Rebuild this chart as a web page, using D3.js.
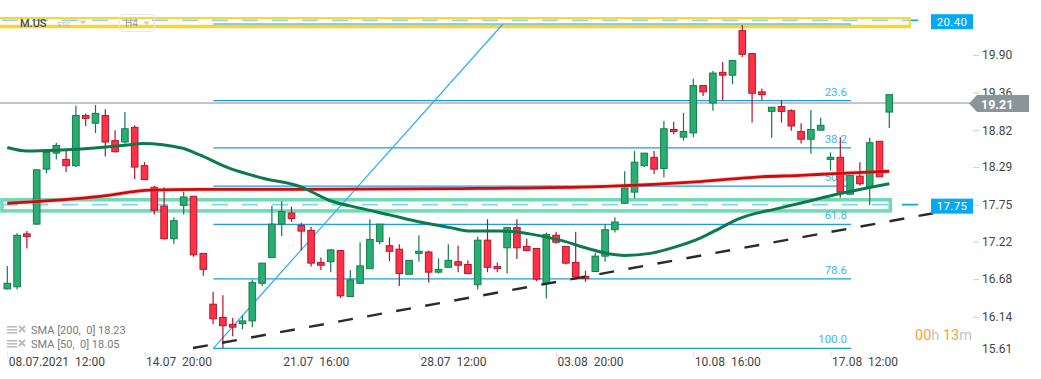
<!DOCTYPE html>
<html><head><meta charset="utf-8">
<script src="https://cdn.jsdelivr.net/npm/d3@7"></script>
<style>
body{margin:0;background:#fff;overflow:hidden}
svg{display:block;font-family:Roboto,'Noto Sans',sans-serif}
</style>
</head><body><svg id="c" width="1041" height="379"></svg>
<script>
// ---------- data ----------
const xTickIdx = [0, 14, 28, 42, 56, 70, 84];
const xTickLabels = ["08.07.2021  12:00", "14.07  20:00", "21.07  16:00", "28.07  12:00", "03.08  20:00", "10.08  16:00", "17.08  12:00"];
const yTicks = [19.90, 19.36, 18.82, 18.29, 17.75, 17.22, 16.68, 16.14, 15.61];

const open  = [16.54,16.57,17.33,17.47,18.26,18.49,18.40,18.31,19.03,18.92,19.03,18.67,18.65,18.86,18.31,18.00,17.73,17.26,17.74,17.87,17.05,16.32,16.13,16.03,16.04,16.08,16.62,16.99,17.47,17.63,17.45,17.38,16.92,16.93,17.09,16.43,16.62,16.83,17.22,17.16,17.11,16.75,17.05,17.07,16.78,16.85,16.93,16.89,16.60,17.24,16.86,17.13,17.42,17.15,17.12,16.62,17.31,17.15,16.92,16.72,16.79,17.01,17.39,17.77,17.93,18.31,18.43,18.27,18.83,18.72,18.78,19.46,19.21,19.65,19.61,20.25,19.92,19.37,19.09,19.16,19.10,18.80,18.69,18.82,18.40,18.43,17.90,18.16,18.01,18.66,19.08];
const high  = [16.87,17.34,17.37,18.26,18.53,18.64,18.55,19.17,19.06,19.18,19.12,18.82,19.08,18.89,18.36,18.02,18.00,17.57,17.94,17.87,17.05,16.50,16.45,16.12,16.16,16.67,16.91,17.73,17.80,17.72,17.49,17.43,16.99,17.11,17.09,16.81,17.21,17.54,17.47,17.28,17.18,16.95,17.31,17.09,16.98,17.18,17.16,16.95,17.29,17.54,16.92,17.42,17.54,17.26,17.12,17.35,17.36,17.15,17.36,16.80,17.06,17.47,17.57,18.23,18.52,18.49,18.52,18.95,18.94,19.07,19.56,19.46,19.67,19.80,19.82,20.33,19.92,19.42,19.15,19.25,19.12,18.92,19.11,19.00,18.50,18.72,18.17,18.36,18.71,18.66,19.33];
const low   = [16.53,16.53,17.12,17.46,18.20,18.40,18.22,18.29,18.88,18.78,18.44,18.50,18.63,18.12,18.11,17.61,17.25,17.19,17.61,17.00,16.73,16.03,15.69,15.86,15.96,15.99,16.58,16.99,17.30,17.50,17.09,16.86,16.81,16.78,16.41,16.43,16.62,16.83,17.18,16.94,16.58,16.75,16.93,16.63,16.76,16.85,16.78,16.76,16.53,16.78,16.78,16.76,16.97,17.09,16.65,16.40,17.19,16.89,16.68,16.64,16.79,16.93,17.35,17.77,17.84,18.29,18.19,18.14,18.76,18.67,18.72,19.31,19.10,19.24,19.48,19.87,18.93,19.25,18.71,18.93,18.81,18.63,18.48,18.82,18.24,17.85,17.90,18.02,17.74,18.15,18.85];
const close = [16.62,17.31,17.29,18.25,18.50,18.60,18.31,19.03,18.99,19.06,18.65,18.51,18.84,18.29,18.11,17.67,17.26,17.52,17.86,17.03,16.82,16.11,16.01,15.99,16.08,16.63,16.91,17.47,17.65,17.55,17.37,16.91,16.88,17.10,16.44,16.67,16.87,17.25,17.47,17.08,16.76,16.95,17.08,16.78,16.82,16.95,16.88,16.76,17.24,16.85,16.83,17.42,17.13,17.09,16.68,17.32,17.21,16.91,16.71,16.69,17.01,17.39,17.50,17.99,18.36,18.49,18.26,18.84,18.80,18.80,19.46,19.37,19.64,19.61,19.82,19.91,19.35,19.33,19.15,19.09,18.88,18.69,18.83,18.89,18.43,17.93,18.17,18.05,18.64,18.15,19.33];

const sma50Idx = [0, 2, 5, 9.5, 12.5, 13.8, 17.9, 19.7, 22.7, 26.1, 29.9, 32.9, 36, 39.1, 42.1, 45.2, 47.2, 50.3, 51.8, 53.3, 56.4, 59.5, 61.5, 63, 65.6, 68.1, 70.7, 72.7, 74.5, 78.8, 80.9, 85, 86, 90];
const sma50Val = [18.57,18.52,18.53,18.57,18.61,18.63,18.56,18.46,18.27,18.13,18.01,17.81,17.70,17.60,17.50,17.42,17.37,17.37,17.36,17.33,17.24,17.11,17.04,17.02,17.05,17.14,17.27,17.41,17.54,17.70,17.77,17.91,17.94,18.05];
const sma200Idx = [0, 9.5, 14.6, 19.7, 29.9, 45.2, 60.5, 70.7, 76.8, 80.9, 85, 90];
const sma200Val = [17.77,17.87,17.96,17.97,17.97,17.98,18.01,18.08,18.15,18.17,18.20,18.23];

const fibLevels = [0, 23.6, 38.2, 50.0, 61.8, 78.6, 100.0];
const fibAnchorIdx = [21.02, 50.58];     // start (100%) , end (0%)
const fibAnchorPrice = [15.686, 20.345];
const fibRightIdx = 86.1;
const trendIdx = [18.95, 94.87];
const trendPrice = [15.69, 17.636];
const hLevels = [20.40, 17.75];
const lastPrice = 19.21;
const zoneYellow = {i: [-0.9, 92.1], p: [20.31, 20.43]};
const zoneGreen = {i: [-0.55, 90.1], p: [17.66, 17.82]};
const legendRows = [["SMA [200,  0] 18.23"], ["SMA [50,  0] 18.05"]];

// ---------- drawing ----------
const svg = d3.select("#c");
const x = d3.scaleLinear().domain([0, 90]).range([7.3, 889.3]);
const y = d3.scaleLinear().domain([15.59, 20.69]).range([355, 0]);

// dashed horizontal levels
svg.append("g").selectAll("line").data(hLevels).join("line")
  .attr("x1", 2).attr("x2", 930).attr("y1", d => y(d)).attr("y2", d => y(d))
  .attr("stroke", "#0aa5ef").attr("stroke-width", 1.6).attr("stroke-dasharray", "16 14");

// zones
function zone(z, stroke, sw, fill) {
  return svg.append("rect").attr("x", x(z.i[0])).attr("width", x(z.i[1]) - x(z.i[0]))
    .attr("y", y(z.p[1])).attr("height", y(z.p[0]) - y(z.p[1]))
    .attr("fill", fill).attr("stroke", stroke).attr("stroke-width", sw);
}
zone(zoneYellow, "#fcd42c", 2, "rgba(255,255,255,0.5)");
svg.append("line").attr("x1", x(zoneYellow.i[0])).attr("x2", x(zoneYellow.i[1]) + 1)
  .attr("y1", y(zoneYellow.p[0])).attr("y2", y(zoneYellow.p[0])).attr("stroke", "#fcd42c").attr("stroke-width", 3.5);
zone(zoneGreen, "#6fdab4", 3.5, "rgba(240,250,247,0.55)");

// header (on top of the zone)
const hd = svg.append("g");
hd.append("text").attr("x", 20).attr("y", 26.5).attr("font-size", 11).attr("font-weight", 500).attr("fill", "#4a4a4a").text("M.US");
hd.append("text").attr("x", 57).attr("y", 26.5).attr("font-size", 7.5).attr("fill", "#b8b8b8").text("STC");
hd.append("path").attr("d", "M79,20.5 L87,20.5 L83,24.5 Z").attr("fill", "#cfcfcf");
hd.append("rect").attr("x", 119.5).attr("y", 14.5).attr("width", 35).attr("height", 17).attr("rx", 3).attr("fill", "none").attr("stroke", "#e8e8e8");
hd.append("text").attr("x", 125).attr("y", 27).attr("font-size", 10).attr("fill", "#a0a0a0").text("H4");
hd.append("path").attr("d", "M143,21.5 L150,21.5 L146.5,25 Z").attr("fill", "#cfcfcf");

// fibonacci
const fibPrice = L => fibAnchorPrice[1] - L / 100 * (fibAnchorPrice[1] - fibAnchorPrice[0]);
const fg = svg.append("g");
fg.selectAll("line").data(fibLevels).join("line")
  .attr("x1", x(fibAnchorIdx[0])).attr("x2", x(fibRightIdx))
  .attr("y1", d => y(fibPrice(d))).attr("y2", d => y(fibPrice(d)))
  .attr("stroke", "#1c9be6").attr("stroke-width", 1.2);
fg.selectAll("text").data(fibLevels.filter(d => d > 0)).join("text")
  .attr("x", x(fibRightIdx) - 4).attr("y", d => y(fibPrice(d)) - 5)
  .attr("text-anchor", "end").attr("font-size", 11.5).attr("fill", "#45b4f0")
  .text(d => d.toFixed(1));
fg.append("line").attr("x1", x(fibAnchorIdx[0])).attr("y1", y(fibAnchorPrice[0]))
  .attr("x2", x(fibAnchorIdx[1])).attr("y2", y(fibAnchorPrice[1]))
  .attr("stroke", "#2cb0f2").attr("stroke-width", 1.2);

// last price line
svg.append("line").attr("x1", 0).attr("x2", 970).attr("y1", y(lastPrice)).attr("y2", y(lastPrice))
  .attr("stroke", "#8e8e8e").attr("stroke-width", 1);

// candles
const data = open.map((o, i) => ({i, o, h: high[i], l: low[i], c: close[i]}));
const cg = svg.append("g");
const bw = 6.6;
cg.selectAll("line").data(data).join("line")
  .attr("x1", d => x(d.i)).attr("x2", d => x(d.i))
  .attr("y1", d => y(d.h)).attr("y2", d => y(d.l))
  .attr("stroke", d => d.c >= d.o ? "#157a48" : "#b0142c").attr("stroke-width", 1.2);
cg.selectAll("rect").data(data).join("rect")
  .attr("x", d => x(d.i) - bw / 2).attr("width", bw)
  .attr("y", d => y(Math.max(d.o, d.c)))
  .attr("height", d => Math.max(1.5, Math.abs(y(d.o) - y(d.c))))
  .attr("fill", d => d.c >= d.o ? "#28ad73" : "#ff3146")
  .attr("stroke", d => d.c >= d.o ? "#177c4c" : "#b3172d").attr("stroke-width", 1);

// SMA lines
const ln = d3.line().x(d => x(d[0])).y(d => y(d[1])).curve(d3.curveMonotoneX);
svg.append("path").attr("d", ln(d3.zip(sma200Idx, sma200Val))).attr("fill", "none")
  .attr("stroke", "#f08080").attr("stroke-width", 4.5).attr("opacity", 0.35);
svg.append("path").attr("d", ln(d3.zip(sma200Idx, sma200Val))).attr("fill", "none")
  .attr("stroke", "#cf0a0a").attr("stroke-width", 2.8);
svg.append("path").attr("d", ln(d3.zip(sma50Idx, sma50Val))).attr("fill", "none")
  .attr("stroke", "#0b7b4c").attr("stroke-width", 3);

// trend line
svg.append("line").attr("x1", x(trendIdx[0])).attr("y1", y(trendPrice[0]))
  .attr("x2", x(trendIdx[1])).attr("y2", y(trendPrice[1]))
  .attr("stroke", "#2a2a2a").attr("stroke-width", 2.4).attr("stroke-dasharray", "15 14.5");

// level tags
hLevels.forEach(p => {
  const yy = y(p);
  svg.append("rect").attr("x", 931).attr("y", yy - 6).attr("width", 42).attr("height", 15).attr("fill", "#03a9f4");
  svg.append("text").attr("x", 952).attr("y", yy + 5.5).attr("text-anchor", "middle")
    .attr("font-size", 11.5).attr("fill", "#fff").attr("letter-spacing", 0.3).text(p.toFixed(2));
});

// y axis
const ya = svg.append("g").attr("transform", "translate(973,0)")
  .call(d3.axisRight(y).tickValues(yTicks).tickSize(6).tickPadding(3).tickFormat(d3.format(".2f")));
ya.select(".domain").remove();
ya.selectAll("line").attr("stroke", "#d0d0d0");
ya.selectAll("text").attr("font-size", 12).attr("fill", "#454545").attr("font-family", "Roboto");
ya.selectAll(".tick").filter(d => d === yTicks[yTicks.length - 1]).each(function () {
  d3.select(this).select("line").remove();
  d3.select(this).select("text").attr("y", -4.5);
});

// last price tag
const ly = y(lastPrice);
svg.append("path").attr("d", `M969,${ly + 0.5} L977,${ly - 8} L1029,${ly - 8} L1029,${ly + 9} L977,${ly + 9} Z`).attr("fill", "#8a9499");
svg.append("text").attr("x", 981).attr("y", ly + 5.5).attr("font-size", 12.5).attr("font-weight", 700)
  .attr("fill", "#fff").text(lastPrice.toFixed(2));

// x axis
const xa = svg.append("g").attr("transform", "translate(0,352)")
  .call(d3.axisBottom(x).tickValues(xTickIdx).tickSize(5).tickFormat((d, i) => xTickLabels[i]));
xa.select(".domain").remove();
xa.selectAll("line").attr("stroke", "#dcdcdc");
xa.selectAll("text").attr("text-anchor", "start").attr("x", 1).attr("y", 14).attr("dy", 0)
  .attr("font-size", 12).attr("fill", "#454545").attr("font-family", "Roboto").style("white-space", "pre");

// legend
const lg = svg.append("g");
legendRows.forEach((r, k) => {
  const by = 334 + k * 14;
  const g = lg.append("g");
  [0, 3, 6].forEach(o => g.append("rect").attr("x", 7).attr("y", by - 8 + o).attr("width", 10).attr("height", 1.6).attr("fill", "#bdbdbd"));
  g.append("path").attr("d", `M19,${by - 8} L25,${by - 2} M25,${by - 8} L19,${by - 2}`).attr("stroke", "#bdbdbd").attr("stroke-width", 2);
  g.append("text").attr("x", 31).attr("y", by).attr("font-size", 11).attr("fill", "#7a7a7a").style("white-space", "pre").text(r[0]);
});

// timer
const tm = svg.append("text").attr("x", 915).attr("y", 339.5).attr("font-size", 14.5);
[["00", "#f5a531"], ["h ", "#c4c4c4"], ["13", "#f5a531"], ["m", "#c4c4c4"]].forEach(s =>
  tm.append("tspan").attr("fill", s[1]).style("white-space", "pre").text(s[0]));
</script>
</body></html>
